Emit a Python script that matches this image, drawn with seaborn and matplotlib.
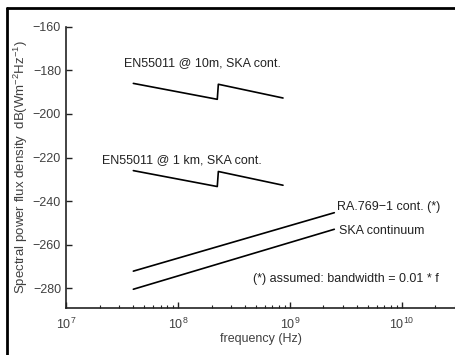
import numpy as np
import pandas as pd
import seaborn as sns
import matplotlib.pyplot as plt
from matplotlib.lines import Line2D
from matplotlib.ticker import LogLocator

# values
f_en = [4.0e7, 2.25e8, 2.3e8, 8.7e8]
en_10m = [-186.0, -193.3, -186.4, -192.7]
en_1km = [-226.0, -233.3, -226.4, -232.7]
f_ra = [4.0e7, 2.5e9]
ra769 = [-272.1, -245.3]
ska_cont = [-280.4, -252.9]

sns.set_style('ticks')
plt.rcParams['font.family'] = ['Liberation Sans', 'DejaVu Sans']
plt.rcParams['mathtext.fontset'] = 'custom'
plt.rcParams['mathtext.rm'] = 'Liberation Sans'
plt.rcParams['mathtext.it'] = 'Liberation Sans:italic'
plt.rcParams['mathtext.default'] = 'regular'

txt = '#404040'
ink = '#222222'

fig = plt.figure(figsize=(4.56, 3.55), dpi=100)
ax = fig.add_axes([0.1447, 0.1324, 0.8553, 0.7924])

for f, v in [(f_en, en_10m), (f_en, en_1km), (f_ra, ra769), (f_ra, ska_cont)]:
    d = pd.DataFrame({'f': f, 'v': v})
    sns.lineplot(data=d, x='f', y='v', color='black', lw=1.2, sort=False, ax=ax)

ax.set_xscale('log')
ax.set_xlim(1e7, 3.06e10)
ax.set_ylim(-289, -160)
ax.set_yticks([-160, -180, -200, -220, -240, -260, -280])
ax.xaxis.set_major_locator(LogLocator(base=10, numticks=10))
ax.xaxis.set_minor_locator(LogLocator(base=10, subs=np.arange(2, 10), numticks=20))

sns.despine(ax=ax)
for s in ['left', 'bottom']:
    ax.spines[s].set_linewidth(1.2)
    ax.spines[s].set_color(ink)
ax.tick_params(which='major', direction='in', length=4, width=1, colors=ink,
               labelcolor=txt, labelsize=9)
ax.tick_params(which='minor', direction='in', length=2, width=0.8, colors=ink)
ax.tick_params(axis='x', pad=6)

ax.set_xlabel('frequency (Hz)', fontsize=9, color=txt, labelpad=1)
ax.set_ylabel('Spectral power flux density  dB(Wm$^{-2}$Hz$^{-1}$)', fontsize=9.5,
               color=txt, labelpad=2)

ax.text(3.27e7, -176.6, 'EN55011 @ 10m, SKA cont.', fontsize=9, color=ink, va='center')
ax.text(2.12e7, -221.1, 'EN55011 @ 1 km, SKA cont.', fontsize=9, color=ink, va='center')
ax.text(2.63e9, -242.7, 'RA.769\u22121 cont. (*)', fontsize=9, color=ink, va='center')
ax.text(2.75e9, -253.7, 'SKA continuum', fontsize=9, color=ink, va='center')
ax.text(4.67e8, -275.7, '(*) assumed: bandwidth = 0.01 * f', fontsize=9,
        color=ink, va='center')

# black frame on the left and top edges of the picture
fig.add_artist(Line2D([7 / 456, 7 / 456], [0, 1 - 8 / 355], color='black', lw=2,
                      transform=fig.transFigure))
fig.add_artist(Line2D([7 / 456, 1], [1 - 8 / 355, 1 - 8 / 355], color='black', lw=2,
                      transform=fig.transFigure))

fig.savefig('out.png', dpi=100)
